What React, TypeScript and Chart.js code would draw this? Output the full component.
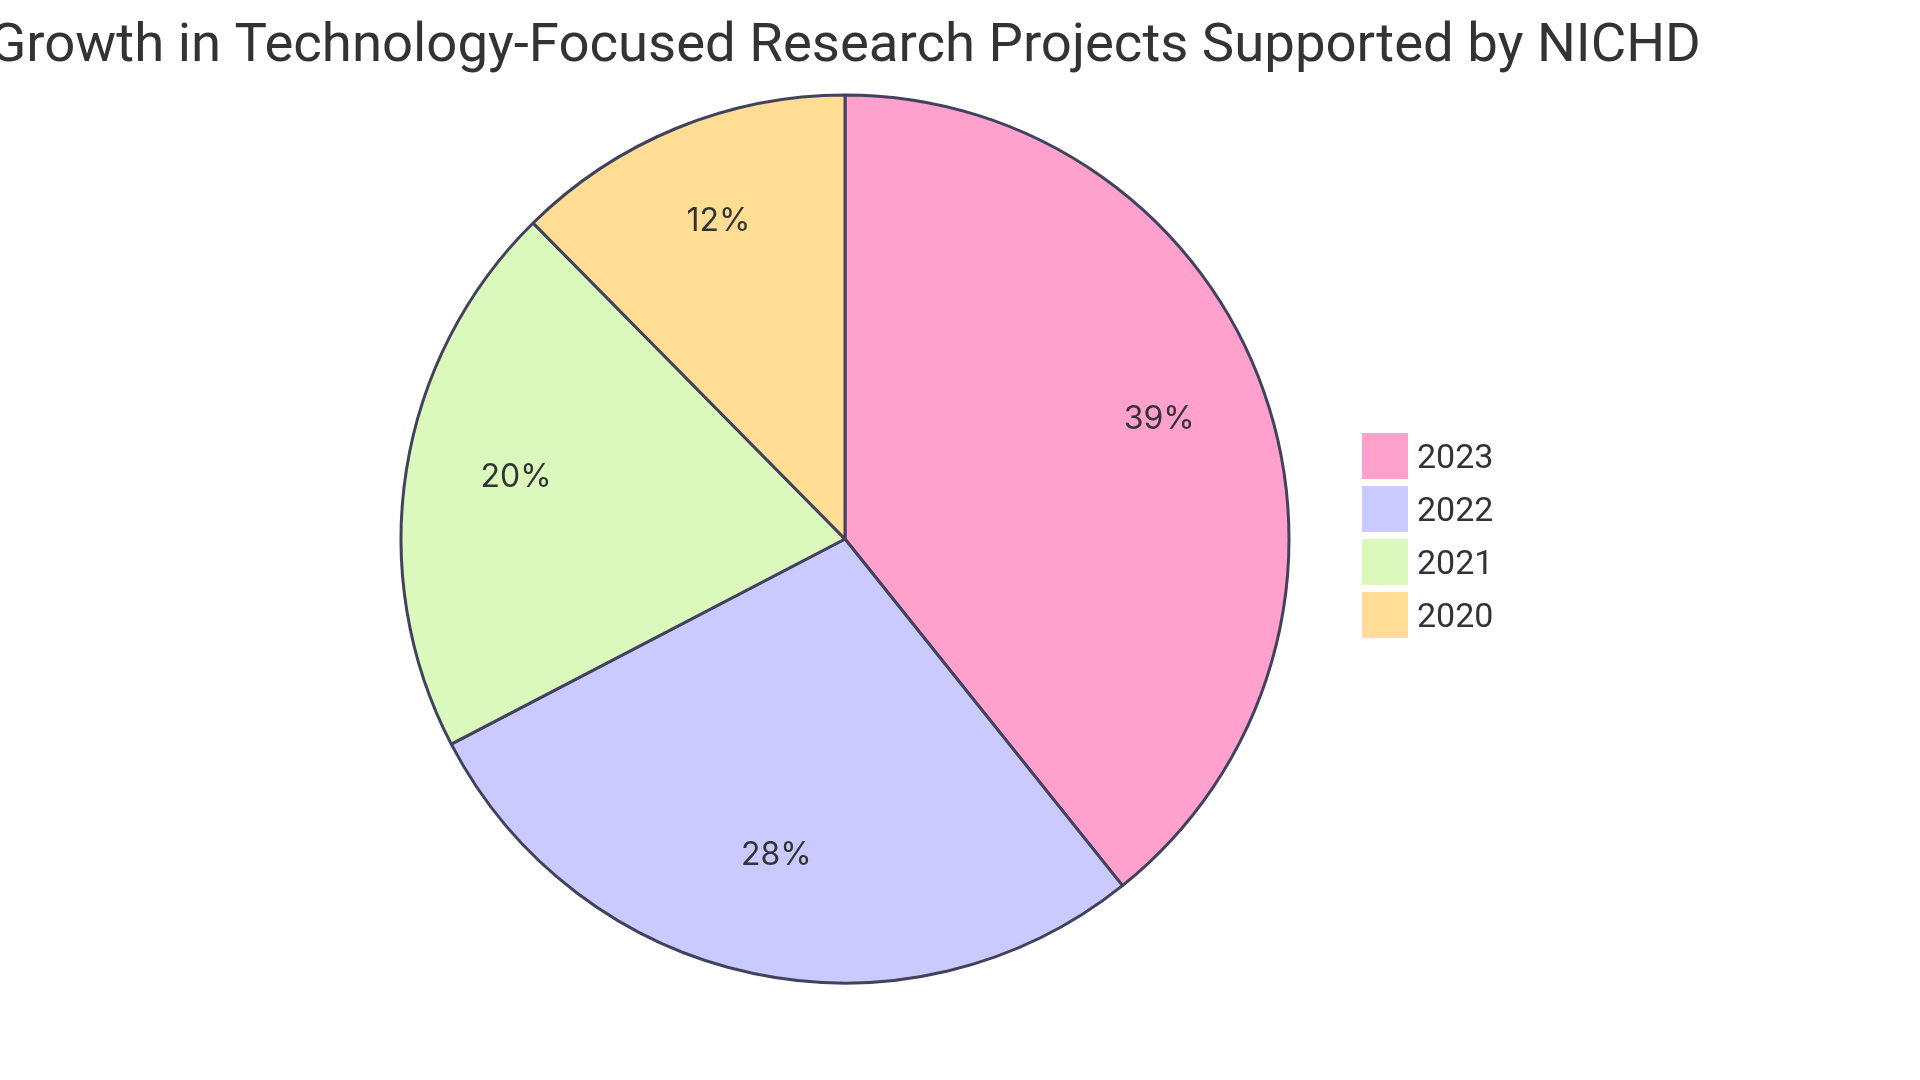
import React, { useEffect, useRef } from "react";
import { Chart, registerables } from "chart.js";

Chart.register(...registerables);

const TITLE = "Growth in Technology-Focused Research Projects Supported by NICHD";
const categories = ["2023", "2022", "2021", "2020"];
const values = [95, 68, 49, 30];
const sliceColors = ["#FFA1CC", "#CACAFF", "#DBF9BC", "#FFDD94"];
const STROKE = "#42425E";
const TEXT = "#333333";
const LABEL_FONT = "Inter, 'Noto Sans', sans-serif";
const TEXT_FONT = "Roboto, 'Noto Sans', sans-serif";

const W = 1920;
const H = 1080;
const CX = 845;
const CY = 539;
const R = 444;

const overlay = {
  id: "mermaidOverlay",
  afterDraw(chart: any) {
    const ctx = chart.ctx;
    const meta = chart.getDatasetMeta(0);
    const data = chart.data.datasets[0].data as number[];
    const total = data.reduce((a, b) => a + b, 0);
    ctx.save();
    // slice labels (baseline at 0.75 radius centroid)
    ctx.fillStyle = TEXT;
    ctx.font = `32px ${LABEL_FONT}`;
    ctx.textAlign = "center";
    ctx.textBaseline = "alphabetic";
    meta.data.forEach((arc: any, i: number) => {
      const p = arc.getProps(["x", "y", "startAngle", "endAngle", "outerRadius"], true);
      const mid = (p.startAngle + p.endAngle) / 2;
      const rr = p.outerRadius * 0.75;
      const pct = ((data[i] / total) * 100).toFixed(0) + "%";
      ctx.fillText(pct, p.x + Math.cos(mid) * rr, p.y + Math.sin(mid) * rr);
    });
    // title
    ctx.font = `54.5px ${TEXT_FONT}`;
    ctx.fillStyle = TEXT;
    ctx.textAlign = "center";
    ctx.textBaseline = "alphabetic";
    ctx.fillText(TITLE, CX, 61);
    // legend
    const lx = 1362;
    const ly = 433;
    const size = 46;
    const step = 53;
    ctx.textAlign = "left";
    ctx.font = `34px ${TEXT_FONT}`;
    chart.data.labels.forEach((lab: string, i: number) => {
      const y = ly + i * step;
      ctx.fillStyle = sliceColors[i];
      ctx.fillRect(lx, y, size, size);
      ctx.fillStyle = TEXT;
      ctx.fillText(lab, lx + 55, y + 35);
    });
    ctx.restore();
  },
};

export default function App() {
  const ref = useRef<HTMLCanvasElement>(null);
  useEffect(() => {
    if (!ref.current) return;
    const chart = new Chart(ref.current, {
      type: "pie",
      data: {
        labels: categories,
        datasets: [
          {
            data: values,
            backgroundColor: sliceColors,
            borderColor: STROKE,
            borderWidth: 3,
          },
        ],
      },
      options: {
        responsive: false,
        animation: false,
        radius: R,
        layout: {
          padding: { left: CX - R, right: W - (CX + R), top: CY - R, bottom: H - (CY + R) },
        },
        plugins: {
          legend: { display: false },
          title: { display: false },
          tooltip: { enabled: false },
        },
      } as any,
      plugins: [overlay],
    });
    return () => chart.destroy();
  }, []);
  return (
    <div style={{ position: "absolute", left: 0, top: 0, width: W, height: H, background: "#fff" }}>
      <canvas ref={ref} width={W} height={H} style={{ display: "block" }} />
    </div>
  );
}
